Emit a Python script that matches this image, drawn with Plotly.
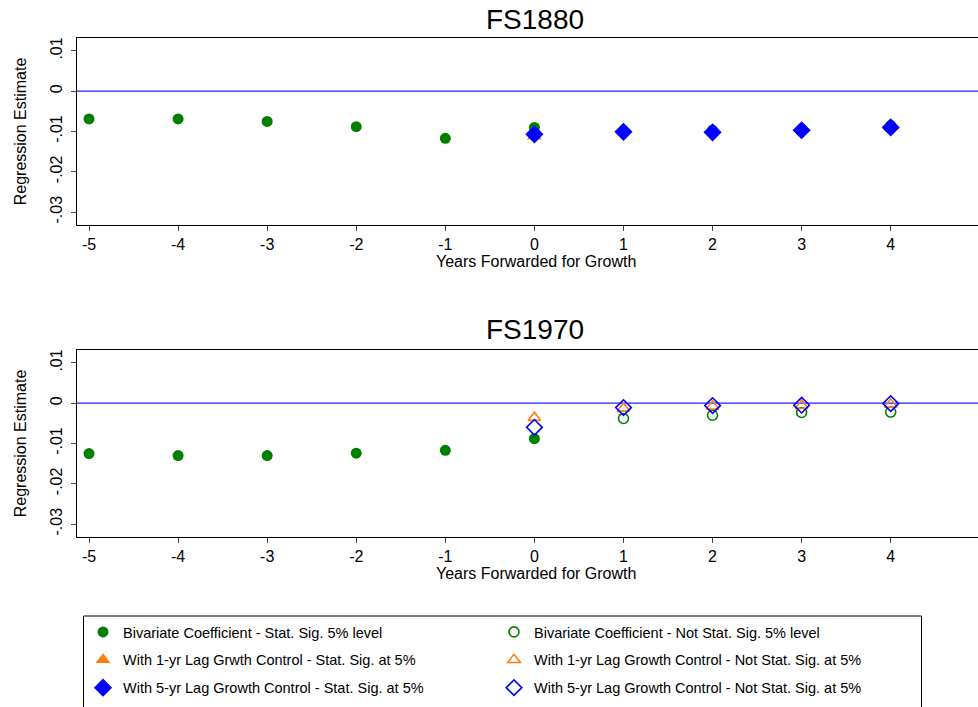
import plotly.graph_objects as go
from plotly.subplots import make_subplots

years = [-5, -4, -3, -2, -1, 0, 1, 2, 3, 4, 5]
years_ctrl = [0, 1, 2, 3, 4, 5]

# FS1880 panel (all significant)
fs1880_biv = [-0.0069, -0.0069, -0.0075, -0.0088, -0.0117, -0.0090, -0.0098, -0.0097, -0.0095, -0.0085, -0.0080]
fs1880_biv_sig = [True] * 11
fs1880_lag1 = [-0.0112, -0.0097, -0.0098, -0.0092, -0.0087, -0.0082]
fs1880_lag1_sig = [True] * 6
fs1880_lag5 = [-0.0107, -0.0101, -0.0102, -0.0097, -0.0090, -0.0083]
fs1880_lag5_sig = [True] * 6

# FS1970 panel
fs1970_biv = [-0.0125, -0.0130, -0.0130, -0.0124, -0.0117, -0.0088, -0.0038, -0.0030, -0.0023, -0.0022, -0.0015]
fs1970_biv_sig = [True, True, True, True, True, True, False, False, False, False, False]
fs1970_lag1 = [-0.0036, -0.0013, -0.0008, -0.0006, -0.0003, -0.0002]
fs1970_lag1_sig = [False] * 6
fs1970_lag5 = [-0.0060, -0.0011, -0.0006, -0.0005, -0.0001, 0.0000]
fs1970_lag5_sig = [False] * 6

ytick_vals = [0.01, 0.0, -0.01, -0.02, -0.03]
ytick_text = [".01", "0", "-.01", "-.02", "-.03"]
xtick_vals = [-5, -4, -3, -2, -1, 0, 1, 2, 3, 4, 5]
xtick_text = ["-5", "-4", "-3", "-2", "-1", "0", "1", "2", "3", "4", "5"]

GREEN = "#008000"
ORANGE = "#ff7f0e"
BLUE = "#0000ff"
ZERO_BLUE = "#1f1fff"
FONT = "Liberation Sans, Arial, sans-serif"

series_style = [
    ("Bivariate Coefficient - Stat. Sig. 5% level", "circle", GREEN, 11, True),
    ("Bivariate Coefficient - Not Stat. Sig. 5% level", "circle-open", GREEN, 10, False),
    ("With 1-yr Lag Grwth Control - Stat. Sig. at 5%", "triangle-up", ORANGE, 13, True),
    ("With 1-yr Lag Growth Control - Not Stat. Sig. at 5%", "triangle-up-open", ORANGE, 11, False),
    ("With 5-yr Lag Growth Control - Stat. Sig. at 5%", "diamond", BLUE, 14, True),
    ("With 5-yr Lag Growth Control - Not Stat. Sig. at 5%", "diamond-open", BLUE, 12, False),
]

fig = make_subplots(rows=2, cols=1)

panels = [
    (1, [(years, fs1880_biv, fs1880_biv_sig), (years_ctrl, fs1880_lag1, fs1880_lag1_sig), (years_ctrl, fs1880_lag5, fs1880_lag5_sig)]),
    (2, [(years, fs1970_biv, fs1970_biv_sig), (years_ctrl, fs1970_lag1, fs1970_lag1_sig), (years_ctrl, fs1970_lag5, fs1970_lag5_sig)]),
]

for row, groups in panels:
    for gi, (xs, ys, sig) in enumerate(groups):
        for filled in (True, False):
            idx = gi * 2 + (0 if filled else 1)
            name, sym, col, size, _ = series_style[idx]
            px = [x for x, s in zip(xs, sig) if s == filled]
            py = [y for y, s in zip(ys, sig) if s == filled]
            fig.add_trace(go.Scatter(
                x=px if px else [None], y=py if py else [None], mode="markers", name=name,
                legendgroup="g%d" % idx,
                marker=dict(symbol=sym, color=col, size=size, line=dict(color=col, width=1.6 if not filled else 0)),
                showlegend=(row == 1),
                cliponaxis=False,
            ), row=row, col=1)

axis_font = dict(family=FONT, size=16, color="#000")
for row, dom in [(1, [0.6818, 0.9463]), (2, [0.2405, 0.5050])]:
    fig.update_xaxes(row=row, col=1, range=[-5.135, 4.98], tickvals=xtick_vals, ticktext=xtick_text,
                     ticks="outside", ticklen=5,
                     showline=True, linecolor="#000", linewidth=1, mirror=True, showgrid=False, zeroline=False,
                     tickfont=axis_font, domain=[0, 1])
    fig.update_yaxes(row=row, col=1, range=[-0.0332, 0.0132], tickvals=ytick_vals, ticktext=ytick_text,
                     tickangle=-90, ticks="outside", ticklen=5, ticklabelstandoff=3,
                     showline=True, linecolor="#000", linewidth=1,
                     showgrid=False, zeroline=False,
                     tickfont=axis_font, domain=dom,
                     title=dict(text="Regression Estimate", font=dict(family=FONT, size=16, color="#000"), standoff=16))

# zero reference lines
for r in (1, 2):
    fig.add_hline(y=0, line=dict(color=ZERO_BLUE, width=1.2), layer="below", row=r, col=1)

for txt, yy in (("FS1880", 19), ("FS1970", 329)):
    fig.add_annotation(text=txt, x=(535 - 77) / 901, y=1 - yy / 707, xref="paper", yref="paper", showarrow=False,
                       font=dict(family=FONT, size=28, color="#000"), xanchor="center", yanchor="middle")
for yy in (262, 573):
    fig.add_annotation(text="Years Forwarded for Growth", x=(535.5 - 77) / 901, y=1 - yy / 707, xref="paper", yref="paper",
                       showarrow=False, font=dict(family=FONT, size=16, color="#000"), xanchor="center", yanchor="middle")

# legend frame (bottom edge falls below the page, as in the reference)
fig.add_shape(type="rect", xref="paper", yref="paper",
              x0=(83.5 - 77) / 901, x1=(921.5 - 77) / 901, y0=1 - 730 / 707, y1=1 - 616 / 707,
              line=dict(color="#000", width=1), fillcolor="rgba(0,0,0,0)", layer="above")

fig.update_layout(
    width=978, height=707,
    margin=dict(l=77, r=0, t=0, b=0, autoexpand=False),
    paper_bgcolor="white", plot_bgcolor="white",
    font=dict(family=FONT, color="#000"),
    showlegend=True,
    legend=dict(orientation="h", x=(83 - 77) / 901, y=1 - 616 / 707, xanchor="left", yanchor="top",
                entrywidth=366, entrywidthmode="pixels", borderwidth=0,
                tracegroupgap=6, traceorder="grouped",
                font=dict(family=FONT, size=14.5, color="#000"), bgcolor="rgba(0,0,0,0)"),
)

fig.write_html("out.html")
